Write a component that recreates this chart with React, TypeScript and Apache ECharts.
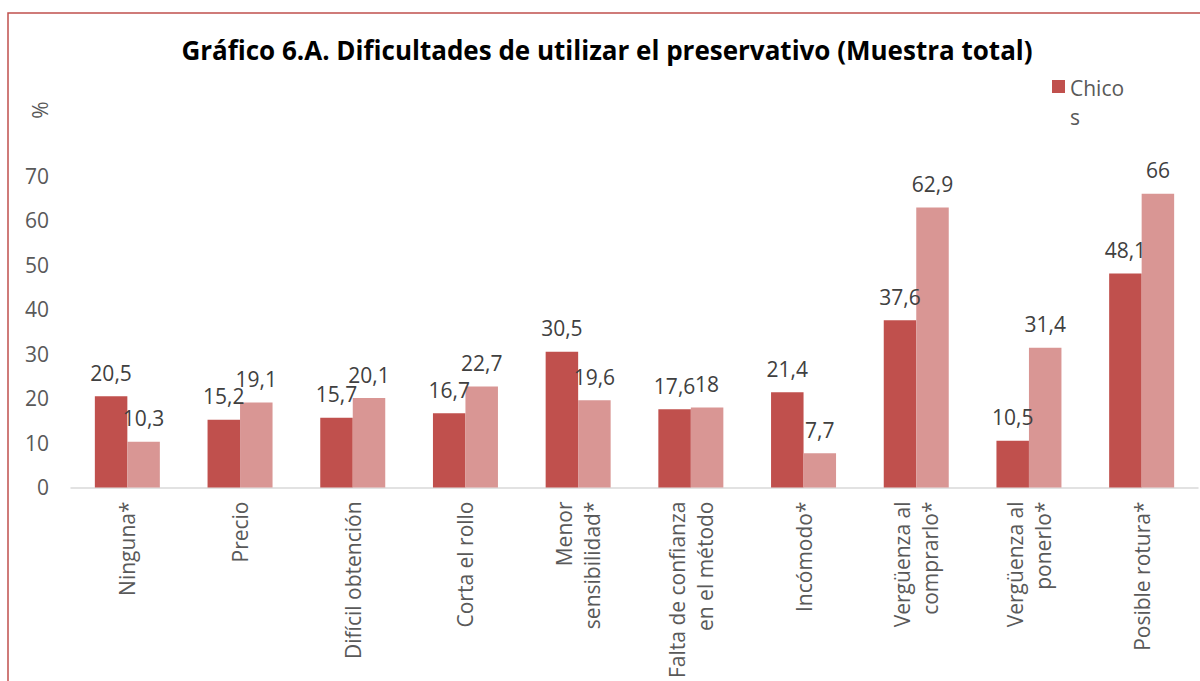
import React, { useEffect, useRef } from "react";
import * as echarts from "echarts";

const categories = [
  "Ninguna*",
  "Precio",
  "Difícil obtención",
  "Corta el rollo",
  "Menor\nsensibilidad*",
  "Falta de confianza\nen el método",
  "Incómodo*",
  "Vergüenza al\ncomprarlo*",
  "Vergüenza al\nponerlo*",
  "Posible rotura*",
];
const chicos = [20.5, 15.2, 15.7, 16.7, 30.5, 17.6, 21.4, 37.6, 10.5, 48.1];
const chicas = [10.3, 19.1, 20.1, 22.7, 19.6, 18, 7.7, 62.9, 31.4, 66];
const yTicks = [0, 10, 20, 30, 40, 50, 60, 70];

const title = "Gráfico 6.A. Dificultades de utilizar el preservativo (Muestra total)";
const FONT = "'Open Sans', 'Noto Sans', sans-serif";
const FS = 21;

export default function App() {
  const ref = useRef<HTMLDivElement>(null);
  useEffect(() => {
    document.body.style.margin = "0";
    document.body.style.overflow = "hidden";
    const chart = echarts.init(ref.current!, null, { renderer: "svg" });
    const fmt = (p: any) => String(p.value).replace(".", ",");
    const labelStyle = {
      show: true,
      position: "top",
      distance: 13,
      formatter: fmt,
      fontSize: FS,
      color: "#404040",
      fontFamily: FONT,
    };
    chart.setOption({
      animation: false,
      textStyle: { fontFamily: FONT },
      title: {
        text: title,
        left: 602,
        textAlign: "center",
        top: 32,
        textStyle: { fontFamily: FONT, fontWeight: "bold", fontSize: 26, color: "#000" },
      },
      grid: { left: 71, right: 2, top: 176, bottom: 192, containLabel: false },
      xAxis: {
        type: "category",
        data: categories,
        axisLine: { lineStyle: { color: "#D9D9D9", width: 1.5 } },
        axisTick: { show: false },
        axisLabel: {
          rotate: 90,
          interval: 0,
          margin: 14,
          fontSize: FS,
          color: "#595959",
          fontFamily: FONT,
          lineHeight: 28,
        },
      },
      yAxis: {
        type: "value",
        min: 0,
        max: yTicks[yTicks.length - 1],
        interval: 10,
        splitLine: { show: false },
        axisLine: { show: false },
        axisTick: { show: false },
        axisLabel: { fontSize: FS, color: "#595959", margin: 22, fontFamily: FONT },
      },
      series: [
        {
          name: "Chicos",
          type: "bar",
          data: chicos,
          barWidth: 32.5,
          barGap: "0%",
          itemStyle: { color: "#C0504D" },
          label: labelStyle,
        },
        {
          name: "Chicas",
          type: "bar",
          data: chicas,
          barWidth: 32.5,
          barGap: "0%",
          itemStyle: { color: "#D99694" },
          label: labelStyle,
        },
      ],
      graphic: [
        {
          type: "rect",
          shape: { x: 8, y: 13, width: 1220, height: 720 },
          style: { fill: "none", stroke: "#C0504D", lineWidth: 1.5 },
          silent: true,
        },
        {
          type: "text",
          x: 40,
          y: 110,
          rotation: Math.PI / 2,
          style: {
            text: "%",
            fontSize: FS,
            fill: "#595959",
            fontFamily: FONT,
            align: "center",
            verticalAlign: "middle",
          },
        },
        {
          type: "rect",
          shape: { x: 1052, y: 80, width: 13, height: 13 },
          style: { fill: "#C0504D" },
        },
        {
          type: "text",
          x: 1070,
          y: 73.5,
          style: {
            text: "Chico\ns",
            fontSize: FS,
            lineHeight: 29,
            fill: "#595959",
            fontFamily: FONT,
            align: "left",
            verticalAlign: "top",
          },
        },
      ],
    });
    return () => chart.dispose();
  }, []);
  return <div ref={ref} style={{ width: 1200, height: 681 }} />;
}
